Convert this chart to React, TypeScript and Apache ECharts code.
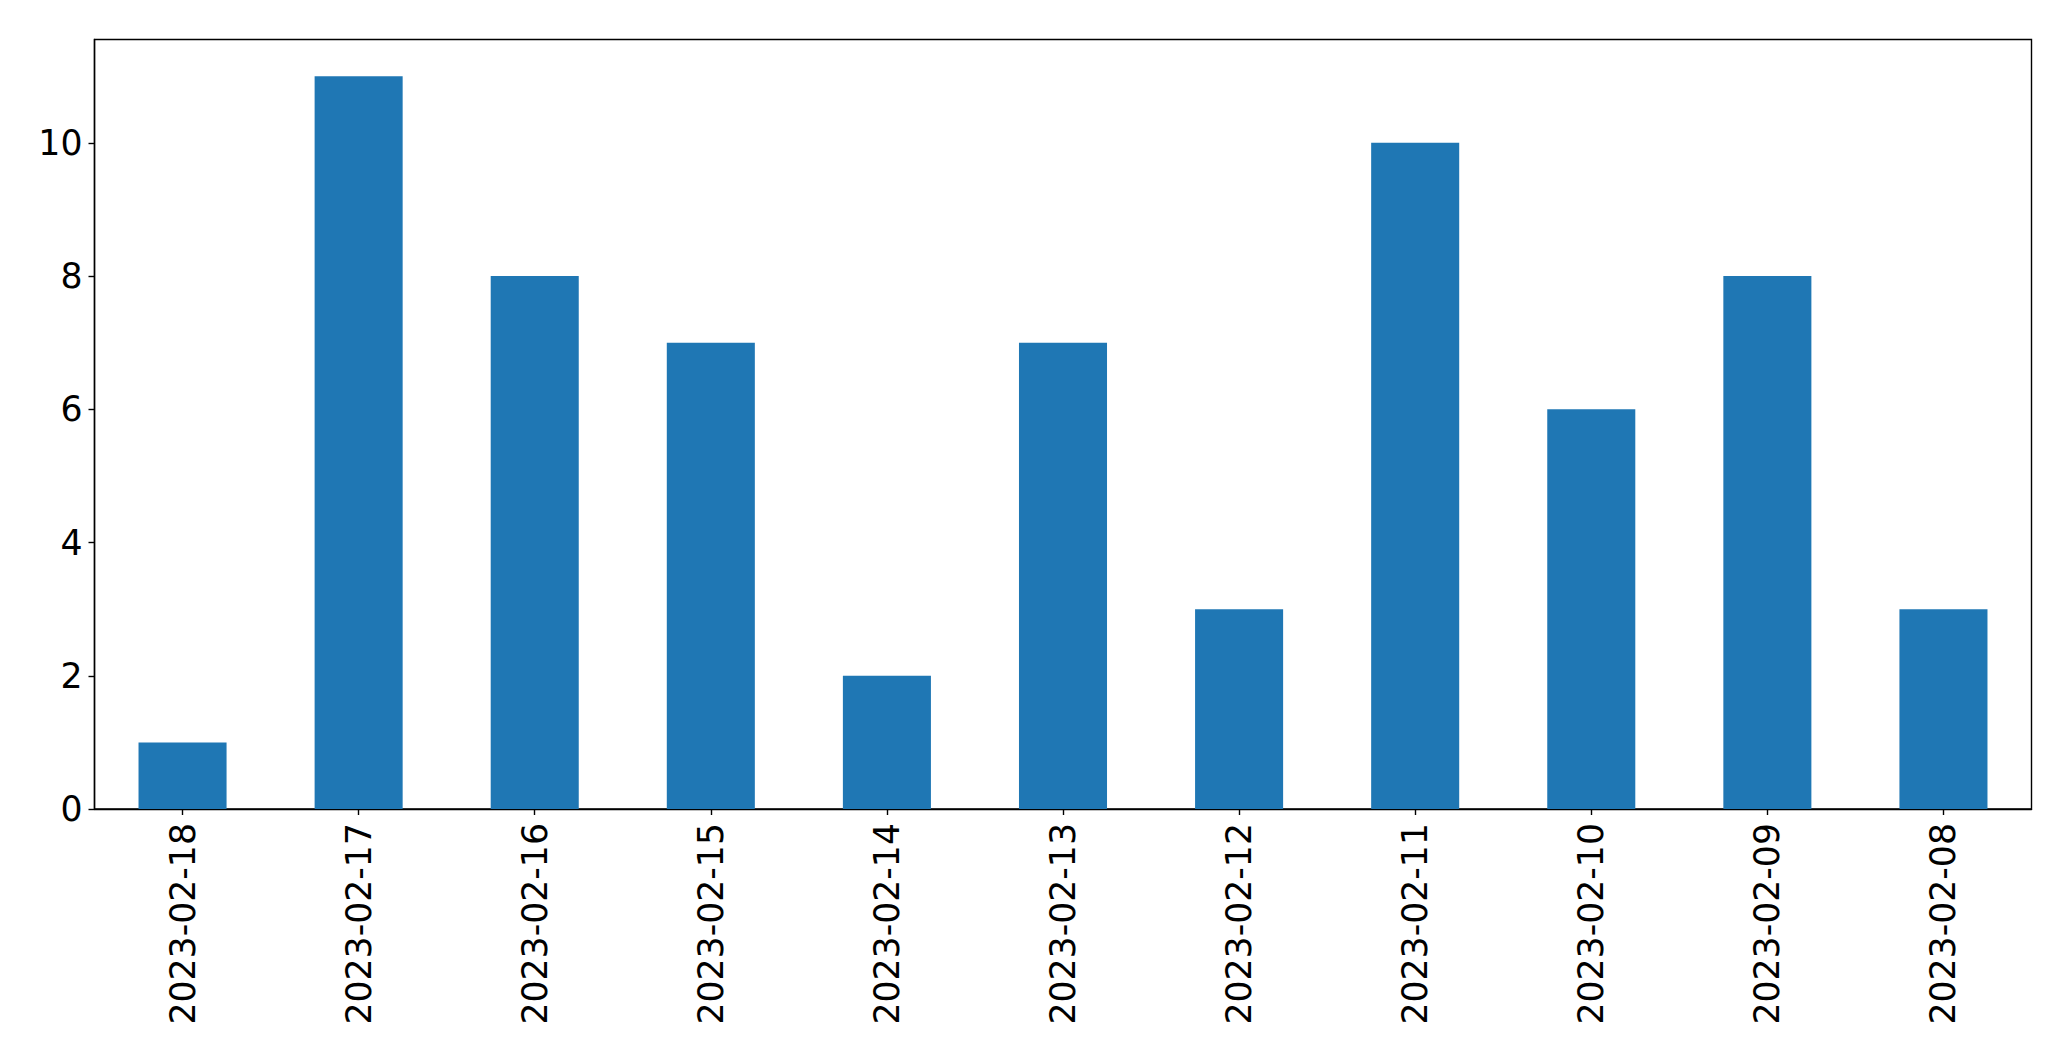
import React, { useEffect, useRef } from "react";
import * as echarts from "echarts";

const categories = [
  "2023-02-18", "2023-02-17", "2023-02-16", "2023-02-15", "2023-02-14", "2023-02-13",
  "2023-02-12", "2023-02-11", "2023-02-10", "2023-02-09", "2023-02-08",
];
const values = [1, 11, 8, 7, 2, 7, 3, 10, 6, 8, 3];
const yTicks = [0, 2, 4, 6, 8, 10];

export default function App() {
  const ref = useRef<HTMLDivElement>(null);
  useEffect(() => {
    document.body.style.margin = "0";
    const chart = echarts.init(ref.current!, null, { renderer: "svg" });
    const font = "DejaVu Sans";
    chart.setOption({
      animation: false,
      backgroundColor: "#ffffff",
      grid: {
        left: 94.5, top: 39.5, right: 39.5, bottom: 252,
        show: true, borderColor: "#000", borderWidth: 1.4, backgroundColor: "transparent",
      },
      xAxis: {
        type: "category",
        data: categories,
        axisLine: { show: true, lineStyle: { color: "#000", width: 1.4 } },
        axisTick: { show: true, alignWithLabel: true, length: 6, lineStyle: { color: "#000", width: 1.4 } },
        axisLabel: { rotate: 90, margin: 14, color: "#000", fontSize: 34.7, fontFamily: font, interval: 0 },
        splitLine: { show: false },
      },
      yAxis: {
        type: "value",
        min: 0,
        max: 11.55,
        interval: 2,
        axisLine: { show: true, lineStyle: { color: "#000", width: 1.4 } },
        axisTick: { show: true, length: 6, customValues: yTicks, lineStyle: { color: "#000", width: 1.4 } },
        axisLabel: { margin: 12, color: "#000", fontSize: 34.7, fontFamily: font, customValues: yTicks },
        splitLine: { show: false },
      },
      series: [
        {
          type: "bar",
          data: values,
          barWidth: "50%",
          itemStyle: { color: "#1f77b4" },
        },
      ],
    });
    return () => chart.dispose();
  }, []);
  return <div ref={ref} style={{ width: 2071, height: 1061 }} />;
}
